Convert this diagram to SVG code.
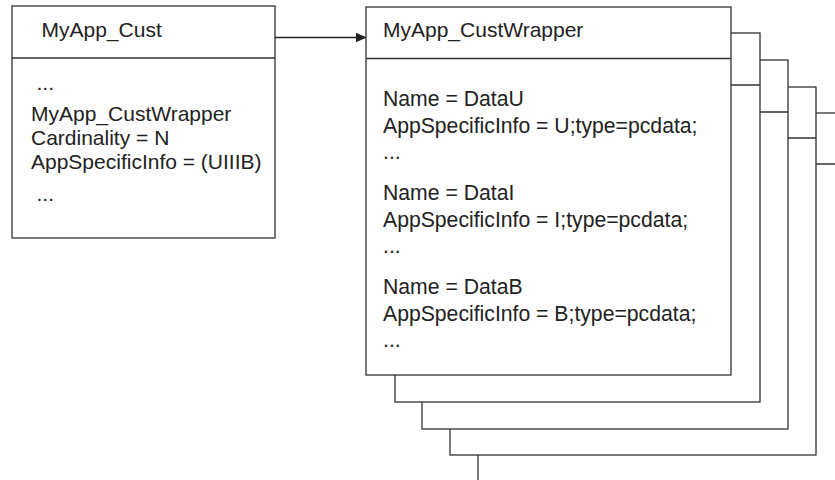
<svg xmlns="http://www.w3.org/2000/svg" width="835" height="480" viewBox="0 0 835 480">
  <style>
    .box { fill: #ffffff; stroke: #333333; stroke-width: 1.3; }
    .div { stroke: #333333; stroke-width: 1.3; fill: none; }
    .t { font-family: "Liberation Sans", Arial, sans-serif; font-size: 21px; fill: #222222; }
    .b { font-size: 21.2px; }
    .conn { stroke: #222222; stroke-width: 1.3; fill: none; }
  </style>
  <defs>
    <marker id="arrow" markerWidth="11" markerHeight="10" refX="10" refY="5" orient="auto" markerUnits="userSpaceOnUse">
      <path d="M0,0 L11,5 L0,10 Z" fill="#222222"/>
    </marker>
  </defs>
  <rect width="835" height="480" fill="#ffffff"/>

  <g id="node-cust">
    <rect class="box" x="12" y="6" width="263" height="232"/>
    <line class="div" x1="12" y1="58" x2="275" y2="58"/>
    <text class="t" x="41.5" y="37">MyApp_Cust</text>
    <text class="t" x="36.5" y="90">...</text>
    <text class="t" x="31" y="121">MyApp_CustWrapper</text>
    <text class="t" x="31" y="145">Cardinality = N</text>
    <text class="t" x="31" y="169">AppSpecificInfo = (UIIIB)</text>
    <text class="t" x="36.5" y="201">...</text>
  </g>

  <g id="node-wrapper">
    <g id="stack">
      <rect class="box" x="478" y="113" width="367" height="369"/>
      <line class="div" x1="478" y1="164" x2="845" y2="164"/>
      <rect class="box" x="450" y="87" width="366" height="368"/>
      <line class="div" x1="450" y1="138" x2="816" y2="138"/>
      <rect class="box" x="422" y="60" width="366" height="369"/>
      <line class="div" x1="422" y1="112" x2="788" y2="112"/>
      <rect class="box" x="395" y="33" width="365" height="369"/>
      <line class="div" x1="395" y1="85" x2="760" y2="85"/>
    </g>
    <rect class="box" x="366" y="7" width="365" height="368"/>
    <line class="div" x1="366" y1="58.5" x2="731" y2="58.5"/>
    <text class="t" x="383" y="37">MyApp_CustWrapper</text>
    <text class="t b" x="383" y="106">Name = DataU</text>
    <text class="t b" x="383" y="133">AppSpecificInfo = U;type=pcdata;</text>
    <text class="t b" x="383" y="159">...</text>
    <text class="t b" x="383" y="200">Name = DataI</text>
    <text class="t b" x="383" y="227">AppSpecificInfo = I;type=pcdata;</text>
    <text class="t b" x="383" y="253">...</text>
    <text class="t b" x="383" y="294">Name = DataB</text>
    <text class="t b" x="383" y="321">AppSpecificInfo = B;type=pcdata;</text>
    <text class="t b" x="383" y="347">...</text>
  </g>

  <g id="connectors">
    <line class="conn" x1="275" y1="37.5" x2="365.5" y2="37.5" marker-end="url(#arrow)"/>
  </g>
</svg>
